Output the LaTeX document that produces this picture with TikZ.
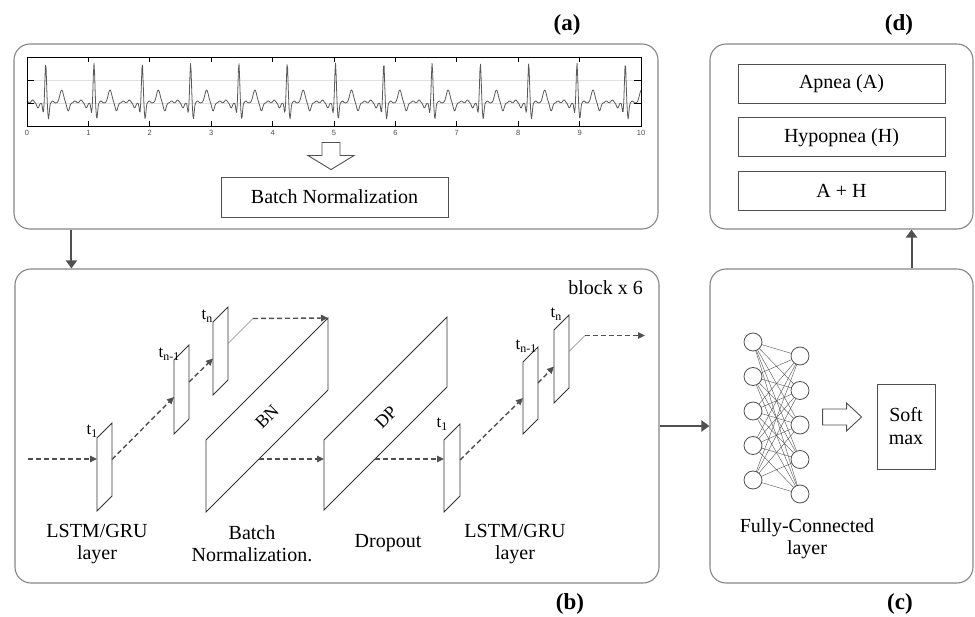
\documentclass[tikz,border=0pt]{standalone}
\usepackage{fontspec}
\setmainfont{Liberation Serif}
\newfontfamily\ticksans{Liberation Sans}
\usepackage{xcolor}
\usetikzlibrary{arrows.meta,positioning,calc}

\definecolor{edge}{HTML}{858585}
\definecolor{ink}{HTML}{505050}

% slanted layer: name, x, y (bottom left), width, height
\newcommand{\layerslab}[5]{%
  \draw[slabline] (#2,#3) coordinate (#1-bl) -- ++(0,-#5) coordinate (#1-tl)
    -- ++(#4,-#4) coordinate (#1-tr) -- ++(0,#5) coordinate (#1-br) -- cycle;
  \coordinate (#1-w) at ($(#1-bl)!0.5!(#1-tl)$);
  \coordinate (#1-e) at ($(#1-br)!0.5!(#1-tr)$);
}

\begin{document}
\begin{tikzpicture}[
  x=1pt, y=-1pt,
  panel/.style={draw=edge, line width=1.1pt, rounded corners=16pt, inner sep=0pt},
  plainbox/.style={draw=ink, line width=0.9pt, align=center, inner sep=0pt, font=\fontsize{20}{23}\selectfont},
  undertext/.style={align=center, font=\fontsize{20}{22}\selectfont},
  paneltag/.style={font=\fontsize{23}{23}\selectfont\bfseries},
  tlabel/.style={anchor=base east, inner sep=0pt, font=\fontsize{17}{17}\selectfont},
  slabline/.style={draw=black!80, line width=0.9pt},
  slabtext/.style={rotate=45, font=\fontsize{18}{18}\selectfont},
  flow/.style={draw=ink, line width=2pt, -{Triangle[length=8pt,width=11pt]}},
  dflow/.style={draw=ink, line width=1.4pt, dash pattern=on 5pt off 3pt, -{Triangle[length=7pt,width=6.5pt]}},
  tlink/.style={draw=gray, line width=0.5pt},
  hollow/.style={draw=ink, line width=0.9pt, fill=white, line join=miter},
  neuron/.style={circle, draw=ink, line width=0.8pt, minimum size=18pt, inner sep=0pt},
  netline/.style={draw=ink, line width=0.4pt},
  ticklines/.style={draw=black, line width=0.8pt},
  gridline/.style={draw=black!12, line width=0.8pt},
  ticklabel/.style={anchor=north, inner sep=0pt, font=\ticksans\fontsize{7.5}{7.5}\selectfont, text=black!70},
  ecgline/.style={draw=black!65, line width=0.8pt, line join=round},
  declare function={
    ecgph(\x)=mod(\x+115.2,48.3)-16;
    gau(\d,\w)=exp(-(\d/\w)*(\d/\w));
    ecg(\u)=103-40*gau(\u,1.1)+16*gau(\u-2.8,1.1)+10*gau(\u+2.4,1.0)
      -13*gau(\u-16,2.6)+8*gau(\u-22.5,1.8)-2*gau(\u-29.3,1.8)
      -3*gau(\u+13,1.8)+5*gau(\u+7.7,1.6)-2*gau(\u-7,1.5);
  }
]
\useasboundingbox (0,0) rectangle (975,617);

% panels
\node[panel, minimum width=644pt, minimum height=185pt] (pa) at (336,136.5) {};
\node[panel, minimum width=644pt, minimum height=314pt] (pb) at (337,426) {};
\node[panel, minimum width=263pt, minimum height=314pt] (pc) at (841.5,426) {};
\node[panel, minimum width=263pt, minimum height=185pt] (pd) at (841.5,136.5) {};

\node[paneltag] at (567,25) {(a)};
\node[paneltag] at (570,604) {(b)};
\node[paneltag] at (900,604) {(c)};
\node[paneltag] at (899,25) {(d)};

% (a) ECG trace
\draw[gridline] (27,80) -- (641,80);
\draw[gridline] (27,103) -- (641,103);
\draw[ecgline] plot[domain=27:641, samples=1000, variable=\x] (\x,{ecg(ecgph(\x))});
\node[draw, line width=0.9pt, minimum width=614pt, minimum height=69pt, inner sep=0pt] (ecg) at (334,91.5) {};
\foreach \k in {1,...,9} {
  \draw[ticklines] (27+61.4*\k,57) -- ++(0,5);
  \draw[ticklines] (27+61.4*\k,126) -- ++(0,-5);
}
\foreach \yy in {80,103} {
  \draw[ticklines] (27,\yy) -- ++(7,0);
  \draw[ticklines] (641,\yy) -- ++(-7,0);
}
\foreach \k in {0,...,10}
  \node[ticklabel] at (27+61.4*\k,130) {\k};

\node[plainbox, minimum width=227pt, minimum height=40pt] (bnorm) at (334.5,197) {Batch Normalization};
\draw[hollow] ($(bnorm.north)+(-3.5,-7)$) -- ++(-23,-14) -- ++(14,0) -- ++(0,-13)
  -- ++(18,0) -- ++(0,13) -- ++(14,0) -- cycle;

% (b) recurrent block
\coordinate (in) at (28,459);
\coordinate (lane) at (650,459);
\coordinate (out) at (645,0);

\layerslab{ca}{97}{511}{15}{73}
\layerslab{cb}{174}{434}{15}{74}
\layerslab{cc}{213}{395}{15}{73}
\layerslab{bn}{206}{512}{122}{72}
\layerslab{dp}{324}{510}{123}{70}
\layerslab{cd}{444}{512}{16}{72}
\layerslab{ce}{523}{434}{15}{72}
\layerslab{cf}{554}{403}{15}{73}

\node[tlabel] at ($(ca-tl)+(1,-3)$) {t\textsubscript{1}};
\node[tlabel] at ($(cb-tl)+(6,-2)$) {t\textsubscript{n-1}};
\node[tlabel] at ($(cc-tl)+(0,-2)$) {t\textsubscript{n}};
\node[tlabel] at ($(cd-tl)+(4,-12)$) {t\textsubscript{1}};
\node[tlabel] at ($(ce-tl)+(14,-12)$) {t\textsubscript{n-1}};
\node[tlabel] at ($(cf-tl)+(8,-12)$) {t\textsubscript{n}};

\node[slabtext] at (267,417) {BN};
\node[slabtext] at (386,417) {DP};

\draw[dflow] (in) -- (ca-tl |- in);
\draw[dflow] (ca-e) -- (cb-w);
\draw[dflow] (cb-e) -- (cc-w);
\draw[tlink] (cc-e) -- ++(25,-25) coordinate (bnin);
\draw[dflow] (bnin) -- (bn-tr);
\draw[dflow] (intersection of bn-bl--bn-br and in--lane) -- (dp-tl |- in);
\draw[dflow] (intersection of dp-bl--dp-br and in--lane) -- (cd-tl |- in);
\draw[dflow] (cd-e) -- (ce-w);
\draw[dflow] (ce-e) -- (cf-w);
\draw[tlink] (cf-e) -- ++(16,-16) coordinate (blkout);
\draw[dflow] (blkout) -- (blkout -| out);

\node[anchor=north east, inner sep=0pt, font=\fontsize{20}{22}\selectfont] at (643,280) {block x 6};

\node[undertext] at (97,544) {LSTM/GRU\\layer};
\node[undertext] at (252,544) {Batch\\Normalization.};
\node[undertext] at (388,543) {Dropout};
\node[undertext] at (515,544) {LSTM/GRU\\layer};

% (c) dense + softmax
\foreach \i in {0,...,4} {
  \node[neuron] (l\i) at (753,342+34.5*\i) {};
  \node[neuron] (r\i) at (800,356+34.5*\i) {};
}
\foreach \i in {0,...,4}
  \foreach \j in {0,...,4}
    \draw[netline] (l\i) -- (r\j);

\node[plainbox, minimum width=58pt, minimum height=85pt] (soft) at (906,426.5) {Soft\\max};
\draw[hollow] ($(soft.west)+(-15,-9.5)$) -- ++(-15,-14) -- ++(0,6) -- ++(-24,0)
  -- ++(0,16) -- ++(24,0) -- ++(0,6) -- cycle;
\node[undertext] at (807,539) {Fully-Connected\\layer};

% (d) outputs
\node[plainbox, minimum width=207pt, minimum height=39pt] (apnea) at (841.5,83.5) {Apnea (A)};
\node[plainbox, minimum width=207pt, minimum height=39pt, below=14pt of apnea] (hypo) {Hypopnea (H)};
\node[plainbox, minimum width=207pt, minimum height=39pt, below=14pt of hypo] (both) {A + H};

% links between panels
\draw[flow] ([xshift=58pt]pa.south west) -- ([xshift=57pt]pb.north west);
\draw[flow] (pb.east) -- (pc.west);
\draw[flow] ([xshift=70pt]pc.north) -- ([xshift=70pt]pd.south);
\end{tikzpicture}
\end{document}
